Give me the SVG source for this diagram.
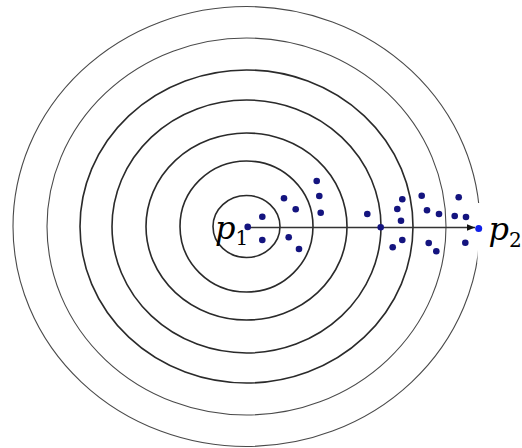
<svg xmlns="http://www.w3.org/2000/svg" width="522" height="448" viewBox="0 0 522 448">
<style>
.ring{fill:none;stroke:#2a2a2a;stroke-width:1.6}
.ring-thin{fill:none;stroke:#4a4a4a;stroke-width:1.1}
.pt{fill:#14147f}
.lbl{font-family:"DejaVu Serif","Liberation Serif",serif;font-style:italic;fill:#000}
.sub{font-family:"DejaVu Serif","Liberation Serif",serif;font-style:normal;fill:#000}
</style>
<defs>
<marker id="arrow" markerUnits="userSpaceOnUse" markerWidth="10" markerHeight="8" refX="8" refY="4" orient="auto">
<path d="M0,0.8 L8,4 L0,7.2 Z" fill="#111"/>
</marker>
</defs>
<rect width="522" height="448" fill="#fff"/>
<g id="rings">
<ellipse class="ring" cx="246.5" cy="226.5" rx="33.5" ry="31"/>
<ellipse class="ring" cx="246.5" cy="226.5" rx="66.5" ry="65.5"/>
<ellipse class="ring" cx="246.5" cy="226.5" rx="100.5" ry="93.5"/>
<ellipse class="ring" cx="246.5" cy="226.5" rx="134.5" ry="126.5"/>
<ellipse class="ring" cx="246.5" cy="226.5" rx="166.5" ry="156.5"/>
<ellipse class="ring-thin" cx="246.5" cy="226.5" rx="199.5" ry="188.5"/>
<ellipse class="ring-thin" cx="246.5" cy="226.5" rx="233.5" ry="220"/>
</g>
<rect x="477.5" y="203" width="45" height="60" fill="#fff"/>
<g id="connectors">
<line x1="247.5" y1="227.5" x2="475" y2="227.5" stroke="#333" stroke-width="1.3" marker-end="url(#arrow)"/>
</g>
<g id="points">
<circle class="pt" cx="262.3" cy="216.7" r="3.3"/>
<circle class="pt" cx="262.3" cy="240" r="3.3"/>
<circle class="pt" cx="284" cy="198.3" r="3.3"/>
<circle class="pt" cx="295.7" cy="209.3" r="3.3"/>
<circle class="pt" cx="288.7" cy="237.3" r="3.3"/>
<circle class="pt" cx="299" cy="249" r="3.3"/>
<circle class="pt" cx="316.7" cy="181" r="3.3"/>
<circle class="pt" cx="319.3" cy="196" r="3.3"/>
<circle class="pt" cx="320.7" cy="212.7" r="3.3"/>
<circle class="pt" cx="367.3" cy="214" r="3.3"/>
<circle class="pt" cx="380.7" cy="227.3" r="3.3"/>
<circle class="pt" cx="402.3" cy="199.3" r="3.3"/>
<circle class="pt" cx="397.3" cy="209" r="3.3"/>
<circle class="pt" cx="401" cy="220.7" r="3.3"/>
<circle class="pt" cx="402.3" cy="240" r="3.3"/>
<circle class="pt" cx="392.7" cy="247.3" r="3.3"/>
<circle class="pt" cx="421.7" cy="195.7" r="3.3"/>
<circle class="pt" cx="427" cy="210.3" r="3.3"/>
<circle class="pt" cx="439" cy="214" r="3.3"/>
<circle class="pt" cx="428.7" cy="243" r="3.3"/>
<circle class="pt" cx="436.3" cy="251.3" r="3.3"/>
<circle class="pt" cx="458.7" cy="197.3" r="3.3"/>
<circle class="pt" cx="454.7" cy="216" r="3.3"/>
<circle class="pt" cx="466" cy="217" r="3.3"/>
<circle class="pt" cx="465.3" cy="242.7" r="3.3"/>
</g>
<g id="p1">
<text class="lbl" x="215" y="238.5" font-size="32">p<tspan class="sub" font-size="20" dy="6.5">1</tspan></text>
<circle class="pt" cx="247.7" cy="226.9" r="3.3"/>
</g>
<g id="p2">
<circle cx="478.7" cy="228.5" r="3.5" fill="#1020e8"/>
<text class="lbl" x="488.5" y="240" font-size="32">p<tspan class="sub" font-size="20" dy="6.5">2</tspan></text>
</g>
</svg>
